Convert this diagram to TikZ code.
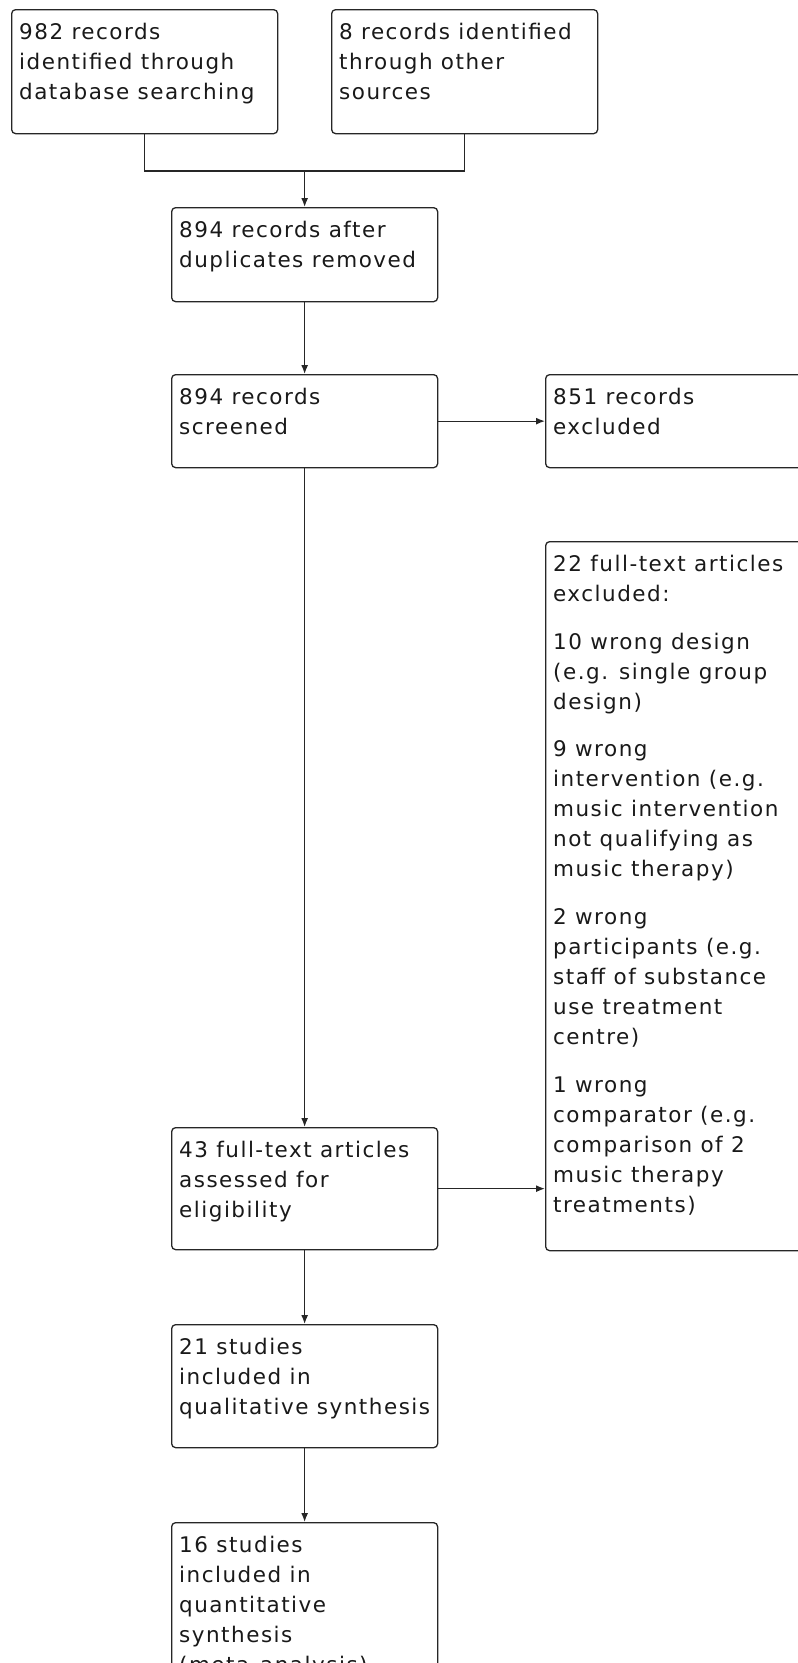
\documentclass[tikz,border=0pt]{standalone}
\usepackage{fontspec}
\setmainfont[LetterSpace=7]{DejaVu Sans}
\usetikzlibrary{arrows.meta}
\newcommand{\fs}{\rule{0pt}{30pt}}
\newcommand{\bxt}[2]{\parbox[c][#1][t]{251pt}{\begin{tabular}[t]{@{}l@{}}\fs #2\end{tabular}}}
\tikzset{
  boxs/.style={draw=black!85, rounded corners=4pt, line width=1.3pt,
    inner xsep=7.5pt, inner ysep=0pt, anchor=north west, text=black!90,
    font=\fontsize{21.5}{30}\selectfont},
  conn/.style={draw=black!85, line width=1.3pt},
  arr/.style={conn, -{Latex[length=9pt,width=7pt]}}
}
\begin{document}
\begin{tikzpicture}[x=1pt,y=-1pt]
\useasboundingbox (0,0) rectangle (798,1663);
\node[boxs] (b1) at (11,9) {\bxt{124pt}{982 records\\identified through\\database searching}};
\node[boxs] (b2) at (331,9) {\bxt{124pt}{8 records identified\\through other\\sources}};
\node[boxs] (b3) at (171,207) {\bxt{94pt}{894 records after\\duplicates removed}};
\node[boxs] (b4) at (171,374) {\bxt{93pt}{894 records\\screened}};
\node[boxs] (b5) at (545,374) {\bxt{93pt}{851 records\\excluded}};
\node[boxs] (b6) at (545,541) {\bxt{709pt}{22 full-text articles\\excluded:\\[17.6pt]
10 wrong design\\(e.g. single group\\design)\\[17.6pt]
9 wrong\\intervention (e.g.\\music intervention\\not qualifying as\\music therapy)\\[17.6pt]
2 wrong\\participants (e.g.\\staff of substance\\use treatment\\centre)\\[17.6pt]
1 wrong\\comparator (e.g.\\comparison of 2\\music therapy\\treatments)}};
\node[boxs] (b7) at (171,1127) {\bxt{122pt}{43 full-text articles\\assessed for\\eligibility}};
\node[boxs] (b8) at (171,1324) {\bxt{123pt}{21 studies\\included in\\qualitative synthesis}};
\node[boxs] (b9) at (171,1522) {\bxt{200pt}{16 studies\\included in\\quantitative\\synthesis\\(meta-analysis)}};
\path (b3.north) ++(0,-36) coordinate (j);
\draw[conn] (b1.south) |- (j) -| (b2.south);
\draw[arr] (j) -- (b3.north);
\draw[arr] (b3.south) -- (b4.north);
\draw[arr] (b4.east) -- (b5.west);
\draw[arr] (b4.south) -- (b7.north);
\draw[arr] (b7.east) -- (b7.east -| b6.west);
\draw[arr] (b7.south) -- (b8.north);
\draw[arr] (b8.south) -- (b9.north);
\end{tikzpicture}
\end{document}
